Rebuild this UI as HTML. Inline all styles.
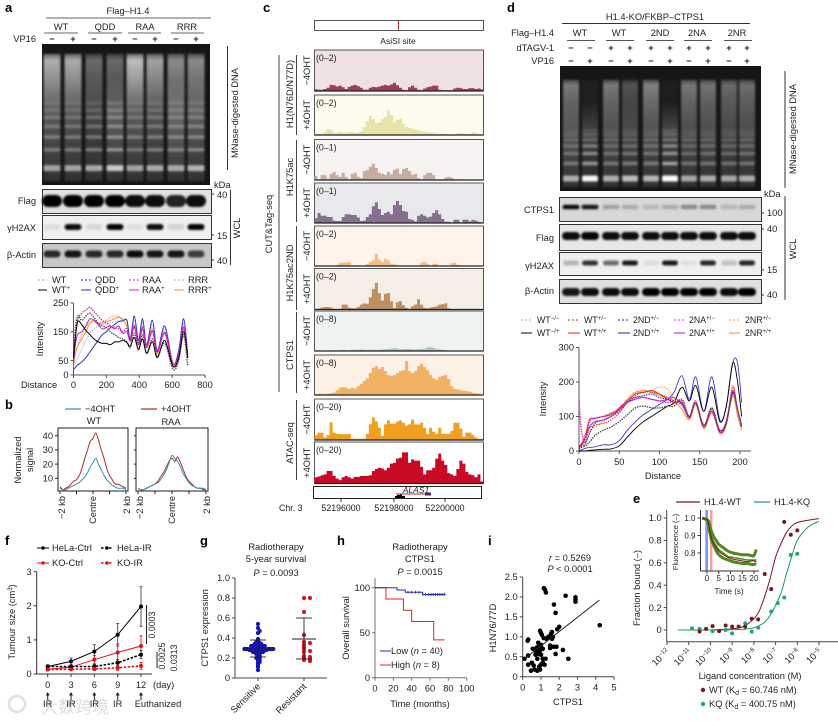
<!DOCTYPE html>
<html><head><meta charset="utf-8"><title>Figure</title>
<style>
html,body{margin:0;padding:0;background:#fff}
svg{display:block;font-family:"Liberation Sans","Noto Sans CJK SC",sans-serif;font-size:9.3px;fill:#222}
.b{font-weight:bold;font-size:13px;fill:#000}
.m{text-anchor:middle}.e{text-anchor:end}
</style></head><body>
<svg id="fig" xmlns="http://www.w3.org/2000/svg" width="838" height="721" viewBox="0 0 838 721">
<defs><filter id="blur1" x="-20%" y="-20%" width="140%" height="140%"><feGaussianBlur stdDeviation="1"/></filter>
<filter id="blur2" x="-30%" y="-60%" width="160%" height="220%"><feGaussianBlur stdDeviation="1.1"/></filter></defs>

<!-- panel letters -->
<text class="b" x="5" y="12">a</text>
<text class="b" x="5" y="409">b</text>
<text class="b" x="263" y="12">c</text>
<text class="b" x="507" y="12">d</text>
<text class="b" x="633" y="503">e</text>
<text class="b" x="5" y="545">f</text>
<text class="b" x="200" y="545">g</text>
<text class="b" x="337" y="545">h</text>
<text class="b" x="488" y="545">i</text>

<!-- panel a labels -->
<g>
<text class="m" x="128" y="14">Flag–H1.4</text>
<line x1="46" y1="18" x2="211" y2="18" stroke="#666"/>
<text class="m" x="61" y="30">WT</text>
<text class="m" x="105" y="30">QDD</text>
<text class="m" x="145" y="30">RAA</text>
<text class="m" x="187" y="30">RRR</text>
<path d="M44 33H78M88 33H122M128 33H161M171 33H204" stroke="#666" fill="none"/>
<text class="e" x="36" y="42">VP16</text>
<text class="e" x="36" y="204">Flag</text>
<text class="e" x="36" y="231">γH2AX</text>
<text class="e" x="36" y="258">β-Actin</text>
<text x="214" y="188">kDa</text>
<text x="217" y="198">40</text>
<text x="217" y="239">15</text>
<text x="217" y="264">40</text>
<path d="M211 194H214M211 235H214M211 260H214" stroke="#333"/>
<line x1="227.5" y1="46" x2="227.5" y2="170" stroke="#333"/>
<text class="m" transform="translate(238 113) rotate(-90)">MNase-digested DNA</text>
<line x1="230.5" y1="190" x2="230.5" y2="265" stroke="#333"/>
<text class="m" transform="translate(240 228) rotate(-90)">WCL</text>
</g>
<g>
<path d="M38 280H47" stroke="#aaa" stroke-dasharray="2 2"/><text x="52" y="283">WT</text>
<path d="M38 290H47" stroke="#000"/><text x="52" y="293">WT<tspan dy="-3" font-size="6">+</tspan></text>
<path d="M81 280H91" stroke="#2a2ac0" stroke-dasharray="2 2"/><text x="95" y="283">QDD</text>
<path d="M81 290H91" stroke="#2a2ac0"/><text x="95" y="293">QDD<tspan dy="-3" font-size="6">+</tspan></text>
<path d="M129 280H139" stroke="#d020d0" stroke-dasharray="2 2"/><text x="142" y="283">RAA</text>
<path d="M129 290H139" stroke="#d020d0"/><text x="142" y="293">RAA<tspan dy="-3" font-size="6">+</tspan></text>
<path d="M174 280H184" stroke="#f0a060" stroke-dasharray="2 2"/><text x="188" y="283">RRR</text>
<path d="M174 290H184" stroke="#f09030"/><text x="188" y="293">RRR<tspan dy="-3" font-size="6">+</tspan></text>
</g>
<text x="21" y="388">Distance</text>
<text class="m" transform="translate(43 339) rotate(-90)">Intensity</text>

<!-- panel b labels -->
<g>
<line x1="65" y1="409" x2="81" y2="409" stroke="#2f8fb0" stroke-width="1.2"/><text x="85" y="412">−4OHT</text>
<line x1="141" y1="409" x2="157" y2="409" stroke="#b02a30" stroke-width="1.2"/><text x="161" y="412">+4OHT</text>
</g>
<text class="m" x="94" y="424">WT</text>
<text class="m" x="171" y="425">RAA</text>
<text class="m" transform="translate(21 460) rotate(-90)">Normalized</text>
<text class="m" transform="translate(33 460) rotate(-90)">signal</text>

<!-- panel c labels -->
<g>
<rect x="314.5" y="20.5" width="169" height="10" fill="#fff" stroke="#555"/>
<line x1="398.5" y1="21" x2="398.5" y2="30" stroke="#c83030"/>
<text class="m" x="398" y="44" font-size="8.5">AsiSI site</text>
<text class="m" transform="translate(272 224) rotate(-90)">CUT&amp;Tag-seq</text>
<line x1="279" y1="55" x2="279" y2="392" stroke="#444"/>
<text class="m" transform="translate(293 94) rotate(-90)">H1(N76D/N77D)</text>
<text class="m" transform="translate(293 177) rotate(-90)">H1K75ac</text>
<text class="m" transform="translate(293 273) rotate(-90)">H1K75ac2ND</text>
<text class="m" transform="translate(293 355) rotate(-90)">CTPS1</text>
<text class="m" transform="translate(293 443) rotate(-90)">ATAC-seq</text>
<path d="M296.5 55V135M296.5 140V222M296.5 226V310M296.5 312V393M296.5 400V480" stroke="#444" fill="none"/>
<rect x="313.5" y="486.5" width="168" height="12" fill="#fff" stroke="#222"/>
<line x1="396" y1="494" x2="426" y2="494" stroke="#c02040" stroke-width="1"/>
<rect x="425" y="492.5" width="6" height="3" fill="#60205a"/>
<path d="M395 498V496H397V495H400V494.5H402V496H405V498Z" fill="#000"/>
<text class="m" x="416" y="493" font-style="italic" font-size="8.5">ALAS1</text>
<path d="M341 499V502M394 499V502M445 499V502" stroke="#333"/>
<text x="279" y="511" font-size="8.8">Chr. 3</text>
<text class="m" x="341" y="511" font-size="8.8">52196000</text>
<text class="m" x="394" y="511" font-size="8.8">52198000</text>
<text class="m" x="445" y="511" font-size="8.8">52200000</text>
</g>

<!-- panel d labels -->
<g>
<text class="m" x="655" y="20">H1.4-KO/FKBP–CTPS1</text>
<line x1="562" y1="23.5" x2="750" y2="23.5" stroke="#333"/>
<text class="e" x="554" y="36">Flag–H1.4</text>
<text class="m" x="580" y="36">WT</text>
<text class="m" x="619" y="36">WT</text>
<text class="m" x="660" y="36">2ND</text>
<text class="m" x="697" y="36">2NA</text>
<text class="m" x="737" y="36">2NR</text>
<path d="M567 40.5H595M606 40.5H634M646 40.5H674M684 40.5H712M724 40.5H752" stroke="#555" fill="none"/>
<text class="e" x="554" y="51">dTAGV-1</text>
<text class="e" x="554" y="64">VP16</text>
<text class="e" x="554" y="213">CTPS1</text>
<text class="e" x="554" y="241">Flag</text>
<text class="e" x="554" y="269">γH2AX</text>
<text class="e" x="554" y="294">β-Actin</text>
<text x="764" y="197">kDa</text>
<text x="767" y="216">100</text>
<text x="767" y="232">40</text>
<text x="767" y="273">15</text>
<text x="767" y="298">40</text>
<path d="M761 213H764M761 229H764M761 270H764M761 295H764" stroke="#333"/>
<line x1="785" y1="71" x2="785" y2="188" stroke="#333"/>
<text class="m" transform="translate(796 129) rotate(-90)">MNase-digested DNA</text>
<line x1="785" y1="196" x2="785" y2="300" stroke="#333"/>
<text class="m" transform="translate(796 249) rotate(-90)">WCL</text>
</g>
<g font-size="8.8">
<path d="M521 320H532" stroke="#aaa" stroke-dasharray="2 2"/><text x="537" y="323">WT<tspan dy="-3" font-size="6">−/−</tspan></text>
<path d="M521 333H532" stroke="#000"/><text x="537" y="336">WT<tspan dy="-3" font-size="6">−/+</tspan></text>
<path d="M568 320H580" stroke="#e02020" stroke-dasharray="2 2"/><text x="584" y="323">WT<tspan dy="-3" font-size="6">+/−</tspan></text>
<path d="M568 333H580" stroke="#e02020"/><text x="584" y="336">WT<tspan dy="-3" font-size="6">+/+</tspan></text>
<path d="M618 320H630" stroke="#2020b0" stroke-dasharray="2 2"/><text x="633" y="323">2ND<tspan dy="-3" font-size="6">+/−</tspan></text>
<path d="M618 333H630" stroke="#2020b0"/><text x="633" y="336">2ND<tspan dy="-3" font-size="6">+/+</tspan></text>
<path d="M674 320H685" stroke="#e030e0" stroke-dasharray="2 2"/><text x="689" y="323">2NA<tspan dy="-3" font-size="6">+/−</tspan></text>
<path d="M674 333H685" stroke="#a020c0"/><text x="689" y="336">2NA<tspan dy="-3" font-size="6">+/+</tspan></text>
<path d="M729 320H740" stroke="#f0a050" stroke-dasharray="2 2"/><text x="745" y="323">2NR<tspan dy="-3" font-size="6">+/−</tspan></text>
<path d="M729 333H740" stroke="#f09030"/><text x="745" y="336">2NR<tspan dy="-3" font-size="6">+/+</tspan></text>
</g>
<text class="m" x="663" y="479">Distance</text>
<text class="m" transform="translate(546 399) rotate(-90)">Intensity</text>

<!-- panel e labels -->
<g>
<line x1="676" y1="502" x2="700" y2="502" stroke="#7a1620" stroke-width="1.2"/><text x="704" y="505">H1.4-WT</text>
<line x1="754" y1="502" x2="770" y2="502" stroke="#1f9a5a" stroke-width="1.2"/><text x="774" y="505">H1.4-KQ</text>
</g>
<text class="m" x="750" y="679">Ligand concentration (M)</text>
<text class="m" transform="translate(640 588) rotate(-90)">Fraction bound (–)</text>
<circle cx="703" cy="690" r="2.2" fill="#7a1620"/>
<text x="709" y="693">WT (K<tspan dy="2" font-size="7">d</tspan><tspan dy="-2"> = 60.746 nM)</tspan></text>
<circle cx="703" cy="704" r="2.2" fill="#22a86a"/>
<text x="709" y="707">KQ (K<tspan dy="2" font-size="7">d</tspan><tspan dy="-2"> = 400.75 nM)</tspan></text>
<text class="m" x="729" y="594" font-size="8">Time (s)</text>
<text class="m" transform="translate(678 542) rotate(-90)" font-size="7.5">Fluorescence (–)</text>

<!-- panel f labels -->
<g>
<text x="52" y="551">HeLa-Ctrl</text>
<text x="117" y="551">HeLa-IR</text>
<text x="52" y="566">KO-Ctrl</text>
<text x="117" y="566">KO-IR</text>
<path d="M37 548H49" stroke="#000"/><circle cx="43" cy="548" r="1.7" fill="#000"/>
<path d="M101 548H113" stroke="#000" stroke-width="1.4" stroke-dasharray="2.5 1.5"/><circle cx="107" cy="548" r="1.7" fill="#000"/>
<path d="M37 563H49" stroke="#e01020"/><circle cx="43" cy="563" r="1.7" fill="#e01020"/>
<path d="M101 563H113" stroke="#e01020" stroke-width="1.4" stroke-dasharray="2.5 1.5"/><circle cx="107" cy="563" r="1.7" fill="#e01020"/>
</g>
<text class="m" transform="translate(15 622) rotate(-90)">Tumour size (cm<tspan dy="-3" font-size="6">3</tspan><tspan dy="3">)</tspan></text>
<text x="153" y="688">(day)</text>
<text class="m" x="158" y="707">Euthanized</text>
<path d="M146.5 605V644M157 652V665M157 664V668" stroke="#222" fill="none"/>
<text class="m" transform="translate(155 625) rotate(-90)" font-size="8.8">0.0003</text>
<text class="m" transform="translate(165 656) rotate(-90)" font-size="8.8">0.0025</text>
<text class="m" transform="translate(177 658) rotate(-90)" font-size="8.8">0.0313</text>

<!-- panel g labels -->
<text class="m" x="276" y="550">Radiotherapy</text>
<text class="m" x="276" y="562">5-year survival</text>
<text class="m" x="276" y="576"><tspan font-style="italic">P</tspan> = 0.0093</text>
<text class="m" transform="translate(208 628) rotate(-90)">CTPS1 expression</text>
<text class="e" transform="translate(261 687) rotate(-45)">Sensitive</text>
<text class="e" transform="translate(307 687) rotate(-45)">Resistant</text>

<!-- panel h labels -->
<text class="m" x="420" y="550">Radiotherapy</text>
<text class="m" x="420" y="562">CTPS1</text>
<text class="m" x="420" y="575"><tspan font-style="italic">P</tspan> = 0.0015</text>
<text class="m" transform="translate(349 628) rotate(-90)">Overall survival</text>
<text class="m" x="420" y="707">Time (months)</text>
<path d="M380 651H391" stroke="#2a2ab0"/>
<path d="M380 665H391" stroke="#e0202a"/>
<text x="391" y="654">Low (<tspan font-style="italic">n</tspan> = 40)</text>
<text x="391" y="668">High (<tspan font-style="italic">n</tspan> = 8)</text>

<!-- panel i labels -->
<text class="m" x="570" y="561"><tspan font-style="italic">r</tspan> = 0.5269</text>
<text class="m" x="570" y="572"><tspan font-style="italic">P</tspan> &lt; 0.0001</text>
<text class="m" x="568" y="705">CTPS1</text>
<text class="m" transform="translate(496 628) rotate(-90)">H1N76/77D</text>

<!-- watermark -->
<g opacity="0.75">
<circle cx="17" cy="704" r="8" fill="none" stroke="#d8d8d8" stroke-width="2.5"/>
<text x="41" y="713" font-size="17" fill="#d4d4d4" style="font-family:'Noto Sans CJK SC',sans-serif">大数跨境</text>
</g>
<g id="marks"></g>
</svg>
<script>
// ---------- data: panel a ----------
const aDistance=[0,10,25,50,75,100,125,150,175,200,225,250,275,300,325,345,370,395,420,445,480,510,555,605,640,670,695];
const aWTminus=[40,150,205,190,205,215,200,180,170,165,150,140,130,125,115,95,145,85,140,75,125,65,110,20,50,140,30];
const aWTplus=[60,120,185,175,155,140,125,115,110,110,105,115,115,120,112,100,130,90,125,75,115,60,120,30,60,150,60];
const aQDDminus=[30,40,60,90,120,145,160,170,175,178,180,185,188,190,185,120,190,110,185,100,175,85,160,35,80,180,60];
const aQDDplus=[20,25,35,45,60,80,100,120,140,150,165,175,185,188,190,125,205,120,195,105,190,85,170,40,85,195,70];
const aRAAminus=[50,130,190,215,225,235,220,205,190,180,170,165,160,150,160,120,170,110,165,100,155,80,150,40,70,170,65];
const aRAAplus=[40,100,140,150,170,195,190,175,160,165,170,160,170,145,150,120,170,105,160,95,155,80,145,40,70,165,60];
const aRRRminus=[50,80,100,140,165,180,185,180,185,190,200,205,205,195,185,120,175,110,170,95,165,80,150,35,70,160,60];
const aRRRplus=[40,70,100,125,150,180,190,180,180,185,190,195,200,190,170,115,165,105,160,95,150,75,145,35,65,155,60];
const aXTicks=[0,200,400,600,800];
const aYTicks=[0,50,150,250];
// ---------- data: panel b ----------
const bPos=[-2,-1.83,-1.67,-1.5,-1.33,-1.17,-1,-0.83,-0.67,-0.5,-0.33,-0.17,0,0.17,0.33,0.5,0.67,0.83,1,1.17,1.33,1.5,1.67,1.83,2];
const bWTminus=[3,2,2,3,4,5,6,7,9,11,14,18,21,24,20,16,12,9,7,5,4,3,3,3,2];
const bWTplus=[4,2,3,4,6,8,9,12,17,24,30,36,38,42,37,30,24,17,12,9,6,6,5,4,3];
const bRAAminus=[3,2,2,3,4,5,6,7,9,12,16,21,26,24,22,18,13,10,7,5,4,3,3,3,2];
const bRAAplus=[3,2,2,3,4,5,6,8,11,14,18,22,24,22,25,21,16,11,8,6,4,3,3,2,2];
const bYTicks=[10,20,30,40];
// ---------- data: panel c (signal as % of track range) ----------
const t1=[4,3,3,5,8,15,14,11,13,9,5,10,13,15,12,8,3,3,8,10,9,11,13,15,13,16,20,14,8,3,2,9,13,8,3,2,6,9,11,13,13,3,2,2,2,2,6,8,7,5,5,7,7,5,6,4];
const t2=[3,2,3,8,15,12,6,4,8,5,4,7,8,5,6,9,20,35,48,40,30,32,40,45,62,50,32,38,40,28,20,18,15,14,12,10,8,7,6,7,4,3,3,2,1,0,1,5,6,4,2,3,7,5,2,2];
const t3=[10,2,12,12,3,15,20,12,8,18,8,2,15,18,8,5,22,25,33,40,30,18,15,13,20,14,25,28,15,27,30,22,13,15,5,2,12,18,18,12,2,2,2,6,8,6,2,2,2,0,0,0,0,0,0,0];
const t4=[12,25,18,18,15,15,6,5,5,15,22,22,20,20,14,5,6,15,22,42,52,35,20,25,28,22,45,55,45,30,28,10,8,4,18,22,18,14,16,25,32,22,10,3,3,1,8,8,2,8,8,4,8,6,3,1];
const t5=[0,0,0,0,0,0,0,3,8,8,9,10,2,0,0,0,0,5,10,14,30,16,10,18,14,6,4,2,1,0,0,0,0,0,0,8,10,6,0,5,5,0,0,0,0,7,8,3,0,0,0,0,0,0,0,0];
const t6=[0,2,5,6,6,5,1,1,2,12,12,5,3,3,6,12,15,14,30,50,65,40,22,38,40,20,4,18,20,10,4,2,8,12,25,12,4,3,5,6,8,12,13,15,3,0,0,0,0,0,0,0,0,0,0,0];
const t7=[1,2,1,0,1,2,1,1,2,3,2,2,3,3,3,4,3,3,3,4,3,3,4,5,5,6,7,6,4,5,5,5,4,4,5,5,6,9,10,8,5,4,3,2,1,1,0,0,0,0,0,0,0,0,0,0];
const t8=[2,3,3,2,3,4,6,12,18,20,18,15,18,16,22,28,35,42,55,68,72,65,70,60,50,48,50,55,60,62,85,60,55,60,72,78,70,62,50,42,38,45,48,50,40,22,15,14,12,10,10,8,6,4,3,1];
const t9=[12,18,18,6,12,43,18,15,15,14,14,15,3,3,3,3,3,15,38,55,45,30,10,38,48,40,40,45,48,42,35,38,50,38,38,42,30,15,30,20,15,30,15,15,15,22,42,42,28,8,18,18,12,6,3,3];
const t10=[15,17,20,22,30,30,18,12,8,15,18,15,12,16,16,18,18,18,20,30,35,38,36,32,38,48,50,60,62,75,75,50,58,55,55,40,22,32,32,38,60,72,55,45,25,22,18,35,55,48,28,22,20,15,22,5];
const trackValues=[t1,t2,t3,t4,t5,t6,t7,t8,t9,t10];
const trackRanges=['(0–2)','(0–2)','(0–1)','(0–1)','(0–2)','(0–2)','(0–8)','(0–8)','(0–20)','(0–20)'];
const trackConds=['−4OHT','+4OHT','−4OHT','+4OHT','−4OHT','+4OHT','−4OHT','+4OHT','−4OHT','+4OHT'];
// ---------- data: panel d ----------
const dDistance=[0,3,8,13,20,30,40,50,60,70,80,90,100,110,118,128,137,145,155,165,175,183,191,197,202];
const dWTmm=[5,10,15,25,45,60,70,85,105,125,130,125,125,130,130,150,100,140,75,125,60,85,170,120,70];
const dWTmp=[0,0,0,2,3,5,6,15,40,65,85,100,115,130,140,185,145,190,115,185,85,130,255,200,100];
const dWTpm=[10,20,30,65,75,80,90,110,140,160,170,170,165,155,140,145,95,140,70,120,55,80,185,120,75];
const dWTpp=[10,15,40,90,95,100,105,125,145,165,170,175,165,150,140,140,95,140,70,115,55,80,175,120,75];
const dNDpm=[10,15,20,50,80,90,100,115,140,155,160,165,155,150,145,135,100,140,70,125,55,85,165,120,70];
const dNDpp=[0,3,8,10,12,18,18,30,60,85,105,120,135,150,170,218,150,215,115,215,90,130,255,255,140];
const dNApm=[145,60,25,85,95,100,110,120,145,155,155,150,145,140,145,140,100,145,70,120,55,85,175,120,75];
const dNApp=[15,20,40,70,85,90,100,120,140,150,155,150,145,150,155,135,100,140,75,115,60,85,170,120,70];
const dNRpm=[10,15,25,55,70,85,105,125,150,170,170,175,185,180,150,130,95,130,70,110,55,80,190,115,60];
const dNRpp=[10,20,50,90,95,100,110,120,150,170,175,170,160,155,145,120,90,135,65,110,50,75,160,100,60];
const dXTicks=[0,50,100,150,200];
const dYTicks=[0,100,200,300];
// ---------- data: panel e ----------
const eLogC=[-11.5,-11,-10.5,-10,-9.5,-9,-8.5,-8,-7.75,-7.5,-7.25,-7,-6.75,-6.5,-6.25,-6,-5.5,-5];
const eFitWT=[0,0,0,0,0.005,0.01,0.03,0.1,0.17,0.3,0.46,0.65,0.77,0.87,0.93,0.96,0.98,0.995];
const eFitKQ=[0,0,0,0,0,0.003,0.006,0.02,0.04,0.07,0.13,0.22,0.33,0.5,0.66,0.8,0.92,0.97];
const eDotsWTx=[-10.5,-10.2,-9.9,-9.6,-9.3,-9,-8.7,-8.4,-8.1,-7.8,-7.5,-7.2,-6.6,-6.3,-6];
const eDotsWTy=[-0.015,0.01,0.035,-0.01,0.04,0.03,0.03,0.03,0.1,0.095,0.5,0.365,0.965,0.85,0.89];
const eDotsKQx=[-10.85,-10.5,-9.9,-9.3,-9,-8.4,-8.1,-7.8,-7.2,-6.9,-6.6,-6.3,-6];
const eDotsKQy=[0.015,0.01,-0.01,0,-0.03,0.06,-0.015,0.02,0.165,0.24,0.29,0.67,0.68];
const eXExponents=['−12','−11','−10','−9','−8','−7','−6','−5'];
const eYTicks=[0,0.2,0.4,0.6,0.8,1.0];
const insetTime=[-2,-1,0,0.5,1,1.5,2,3,4,5,7,9,11,13,15,17,19,20,21];
const insetGreenHigh=[1,0.995,0.99,0.985,0.97,0.94,0.92,0.89,0.87,0.85,0.83,0.81,0.8,0.795,0.79,0.79,0.785,0.785,0.82];
const insetGreenMid=[1,0.995,0.99,0.98,0.95,0.92,0.89,0.86,0.84,0.82,0.8,0.78,0.775,0.77,0.765,0.76,0.76,0.76,0.76];
const insetGreenLow=[1,0.995,0.99,0.97,0.93,0.9,0.87,0.84,0.81,0.79,0.77,0.76,0.75,0.745,0.74,0.74,0.735,0.735,0.74];
const insetRed=[1,0.995,0.99,0.975,0.94,0.91,0.88,0.85,0.83,0.81,0.79,0.775,0.765,0.76,0.755,0.75,0.755,0.755,0.75];
const insetXTicks=[0,5,10,15,20];
const insetYTicks=[0.8,0.9,1.0];
// ---------- data: panel f ----------
const fDays=[0,3,6,9,12];
const fHeLaCtrl=[0.22,0.37,0.66,1.15,1.98];
const fHeLaCtrlErr=[0.05,0.1,0.2,0.33,0.58];
const fHeLaIR=[0.22,0.22,0.22,0.33,0.57];
const fHeLaIRErr=[0.03,0.05,0.06,0.1,0.12];
const fKOCtrl=[0.14,0.2,0.42,0.63,0.82];
const fKOCtrlErr=[0.03,0.06,0.12,0.25,0.3];
const fKOIR=[0.13,0.14,0.15,0.18,0.24];
const fKOIRErr=[0.02,0.03,0.05,0.07,0.1];
const fYTicks=[0,1,2,3];
// ---------- data: panel g ----------
const gSensitive=[0.08,0.11,0.13,0.15,0.16,0.17,0.18,0.19,0.2,0.2,0.21,0.22,0.23,0.24,0.24,0.25,0.25,0.25,0.26,0.26,0.26,0.26,0.27,0.27,0.27,0.27,0.27,0.28,0.28,0.28,0.28,0.28,0.28,0.29,0.29,0.29,0.29,0.29,0.29,0.29,0.3,0.3,0.3,0.3,0.3,0.3,0.3,0.31,0.31,0.31,0.31,0.31,0.32,0.32,0.32,0.32,0.33,0.33,0.33,0.34,0.34,0.35,0.35,0.36,0.38,0.39,0.45,0.47,0.5,0.54];
const gResistant=[0.8,0.8,0.66,0.43,0.36,0.35,0.33,0.32,0.3,0.29,0.27,0.26,0.22,0.21,0.2,0.19,0.18,0.17];
const gSummaryMean=[0.3,0.39];
const gSummaryLow=[0.21,0.19];
const gSummaryHigh=[0.38,0.6];
const gYTicks=[0,0.2,0.4,0.6,0.8,1.0];
// ---------- data: panel h ----------
const hLowTime=[0,24,33,52,77];
const hLowSurvival=[100,97.5,95,92.5,92.5];
const hHighTime=[0,12,31,40,64,76];
const hHighSurvival=[100,87.5,75,62.5,42,42];
const hLowCensor=[36,40,44,48,52,55,58,60,62,64,66,68,70,72,74,76];
const hXTicks=[0,20,40,60,80,100];
const hYTicks=[0,50,100];
// ---------- data: panel i ----------
const iCTPS1=[1.16,1.22,1.27,2.35,2.89,2.89,2.89,1.71,1.8,4.22,2.0,1.89,0.1,0.3,0.3,0.27,0.3,0.45,0.5,0.55,0.6,0.65,0.7,0.7,0.75,0.8,0.8,0.85,0.85,0.85,0.9,0.9,0.9,0.95,0.95,0.95,1.0,1.0,1.0,1.0,0.95,1.05,1.1,1.1,1.1,1.15,1.2,1.25,1.3,1.4,1.5,1.5,1.55,1.6,1.65,1.7,1.8,1.85,2.2,2.5,1.6];
const iH1=[2.22,2.18,2.11,2.03,1.99,1.93,1.88,1.81,1.6,1.29,1.25,1.19,0.45,0.3,0.53,0.9,0.93,0.15,0.35,0.7,0.28,0.18,0.55,0.65,0.72,0.15,0.45,0.62,0.75,0.85,0.25,0.57,0.7,0.18,0.78,0.65,0.3,0.55,0.8,1.1,1.15,1.05,0.35,0.45,0.7,0.97,0.3,0.45,0.95,1.0,0.72,0.78,1.07,1.12,1.0,0.75,0.57,0.75,0.67,0.45,0.95];
const iFitX=[0.1,4.2];
const iFitY=[0.45,1.92];
const iXTicks=[0,1,2,3,4,5];
const iYTicks=[0,0.5,1.0,1.5,2.0,2.5];
// ---------- data: gels and blots (lane intensities) ----------
const gelASmearTop=[0.66,0.64,0.36,0.36,0.72,0.6,0.5,0.5];
const gelASmearMid=[0.3,0.28,0.22,0.32,0.3,0.27,0.36,0.32];
const gelABandGain=[0.75,0.75,0.8,1,0.75,0.8,0.8,0.85];
const gelABandDepth=[0.88,0.75,0.66,0.585,0.52,0.47,0.42];
const gelABandPower=[0.72,0.42,0.38,0.32,0.26,0.2,0.14];
const gelDSmearTop=[0.42,0.05,0.42,0.26,0.46,0.04,0.42,0.4,0.36,0.38];
const gelDSmearMid=[0.28,0.18,0.26,0.22,0.26,0.2,0.24,0.24,0.22,0.24];
const gelDBandGain=[0.75,1.2,0.75,0.85,0.8,1.3,0.72,0.75,0.72,0.75];
const gelDBandDepth=[0.9,0.78,0.7,0.64,0.59,0.55,0.52];
const gelDBandPower=[0.8,0.42,0.36,0.3,0.2,0.14,0.1];
const blotAFlag=[1,1,1,1,0.95,0.95,0.85,0.95];
const blotAH2AX=[0.08,0.95,0.1,0.98,0.08,0.95,0.12,0.98];
const blotAActin=[0.8,0.9,0.8,0.8,0.95,0.9,0.9,0.7];
const blotDCTPS1=[0.95,0.9,0.25,0.2,0.15,0.2,0.35,0.35,0.15,0.2];
const blotDFlag=[0.95,0.98,0.95,0.95,0.95,0.95,0.95,0.95,0.95,0.95];
const blotDH2AX=[0.25,0.8,0.55,0.9,0.08,0.9,0.07,0.85,0.2,0.85];
const blotDActin=[0.9,0.95,0.95,0.95,1,1,1,1,0.95,1];
const vpA=['−','+','−','+','−','+','−','+'];
const tagD=['−','−','+','+','+','+','+','+','+','+'];
const vpD=['−','+','−','+','−','+','−','+','−','+'];

// ---------- helpers ----------
const NS='http://www.w3.org/2000/svg';
const root=document.getElementById('marks');
const defs=document.querySelector('defs');
function mk(tag,attrs,parent){const n=document.createElementNS(NS,tag);for(const k in attrs)n.setAttribute(k,attrs[k]);(parent||root).appendChild(n);return n;}
function linear(d0,d1,r0,r1){return v=>r0+(v-d0)*(r1-r0)/(d1-d0);}
function group(name){
  const g=mk('g',{});
  
  
  return g;
}
function label(parent,name,x,y,str,anchor,size){
  const t=mk('text',{x:x,y:y,'text-anchor':anchor||'start','font-size':size||9.3},parent);
  t.textContent=str;
  
  
  return t;
}
function segment(parent,name,x1,y1,x2,y2,stroke,w,dash){
  const l=mk('line',{x1:x1,y1:y1,x2:x2,y2:y2,stroke:stroke||'#222','stroke-width':w||1},parent);
  if(dash)l.setAttribute('stroke-dasharray',dash);
  
  
  return l;
}
function smoothPath(xs,ys){
  let d='M'+xs[0].toFixed(2)+' '+ys[0].toFixed(2);
  for(let i=0;i<xs.length-1;i++){
    const p0=i>0?i-1:i,p3=i+2<xs.length?i+2:i+1;
    const c1x=xs[i]+(xs[i+1]-xs[p0])/6,c1y=ys[i]+(ys[i+1]-ys[p0])/6;
    const c2x=xs[i+1]-(xs[p3]-xs[i])/6,c2y=ys[i+1]-(ys[p3]-ys[i])/6;
    d+='C'+c1x.toFixed(2)+' '+c1y.toFixed(2)+' '+c2x.toFixed(2)+' '+c2y.toFixed(2)+' '+xs[i+1].toFixed(2)+' '+ys[i+1].toFixed(2);
  }
  return d;
}
function series(parent,name,xv,yv,sx,sy,stroke,w,dash,opacity){
  const p=mk('path',{d:smoothPath(xv.map(sx),yv.map(sy)),fill:'none',stroke:stroke,'stroke-width':w||1},parent);
  if(dash)p.setAttribute('stroke-dasharray',dash);
  if(opacity)p.setAttribute('opacity',opacity);
  
  
  return p;
}
function yAxis(parent,name,ticks,sy,x,top,bottom,fmt,stroke,size){
  segment(parent,name+'-line',x,top,x,bottom,stroke||'#444',1);
  ticks.forEach(v=>{
    segment(parent,name+'-tick',x-3,sy(v),x,sy(v),stroke||'#444',1);
    label(parent,name+'-label',x-5,sy(v)+3.2,fmt?fmt(v):String(v),'end',size);
  });
}
function xAxis(parent,name,ticks,sx,y,left,right,offset,stroke,size){
  segment(parent,name+'-line',left,y,right,y,stroke||'#444',1);
  ticks.forEach(v=>{
    segment(parent,name+'-tick',sx(v),y,sx(v),y+3,stroke||'#444',1);
    label(parent,name+'-label',sx(v),y+offset,String(v),'middle',size);
  });
}
function symbols(parent,name,centers,vals,y){
  vals.forEach((s,i)=>{
    const t=label(parent,name,centers[i],y,s,'middle',9.3);
    t.setAttribute('font-weight','bold');
  });
}
// gel image
function drawGel(name,x,y,w,h,centers,lw,laneTop,smearTop,smearMid,gain,depth,power){
  const g=group(name);
  const bg=mk('rect',{x:x,y:y,width:w,height:h,fill:'#151515'},g);
  
  
  const inner=mk('g',{filter:'url(#blur1)'},g);
  
  
  centers.forEach((c,i)=>{
    const id=name+'-grad-'+i;
    const lg=mk('linearGradient',{id:id,x1:0,y1:0,x2:0,y2:1},defs);
    [[0,smearTop[i]*0.5],[0.05,smearTop[i]],[0.2,smearTop[i]*0.8],[0.45,smearMid[i]],[0.7,smearMid[i]*0.7],[1,0.12]].forEach(s=>{
      mk('stop',{offset:s[0],'stop-color':'#fff','stop-opacity':s[1]},lg);
    });
    const top=y+h*laneTop;
    const lane=mk('rect',{x:c-lw/2,y:top,width:lw,height:y+h-4-top,fill:'url(#'+id+')'},inner);
    
    
    depth.forEach((d,j)=>{
      const band=mk('rect',{x:c-lw/2,y:y+h*d-(j===0?3:1.8),width:lw,height:j===0?6:3.6,rx:1.5,fill:'#fff',opacity:Math.min(1,power[j]*gain[i])},inner);
      
      
    });
  });
}
// western blot
function drawBlot(name,x,y,w,h,bg,centers,vals,bandY,bandW,bandH){
  const g=group(name);
  const r=mk('rect',{x:x+0.5,y:y+0.5,width:w,height:h,fill:bg,stroke:'#333','stroke-width':1},g);
  
  
  const inner=mk('g',{filter:'url(#blur2)'},g);
  
  
  vals.forEach((v,i)=>{
    const b=mk('rect',{x:centers[i]-bandW/2,y:bandY-bandH/2,width:bandW,height:bandH,rx:bandH/2,fill:'#000',opacity:v},inner);
    
    
  });
}

// ---------- panel a images ----------
const lanesA=[52,73,94,115,135,155,176,196];
const gA=group('panel-a-marks');
symbols(gA,'vp16-sign',lanesA,vpA,42);
drawGel('gel-a',42,44,168,141,lanesA,17,0.07,gelASmearTop,gelASmearMid,gelABandGain,gelABandDepth,gelABandPower);
drawBlot('blot-a-flag',42,189,169,24,'#e2e2e2',lanesA,blotAFlag,201,20,12);
drawBlot('blot-a-h2ax',42,215,169,24,'#f0f0f0',lanesA,blotAH2AX,227,17,6);
drawBlot('blot-a-actin',42,243,169,24,'#c8c8c8',lanesA,blotAActin,254,17,7);

// ---------- panel a chart ----------
const ax=linear(0,800,73.5,205), ay=linear(0,250,375,303);
const cA=group('chart-a');
yAxis(cA,'chart-a-y-axis',aYTicks,ay,73.5,303,375,null,'#555');
xAxis(cA,'chart-a-x-axis',aXTicks,ax,375,73.5,205,13,'#555');
series(cA,'series-qdd-minus',aDistance,aQDDminus,ax,ay,'#b0b0e8',1,'1.5 1');
series(cA,'series-rrr-minus',aDistance,aRRRminus,ax,ay,'#f5b070',1.2,'1.5 1');
series(cA,'series-rrr-plus',aDistance,aRRRplus,ax,ay,'#f09030',1);
series(cA,'series-qdd-plus',aDistance,aQDDplus,ax,ay,'#3030c8',1);
series(cA,'series-raa-plus',aDistance,aRAAplus,ax,ay,'#c818c8',1);
series(cA,'series-raa-minus',aDistance,aRAAminus,ax,ay,'#d028b0',1.3,'1.5 1');
series(cA,'series-wt-minus',aDistance,aWTminus,ax,ay,'#555',1.4,'1.5 1');
series(cA,'series-wt-plus',aDistance,aWTplus,ax,ay,'#000',1);

// ---------- panel b ----------
const by=linear(0,40,492.5,435.7);
function bPanel(name,x0,x1,minusVals,plusVals,showY){
  const g=group(name);
  const f=mk('rect',{x:x0,y:428,width:x1-x0,height:63,fill:'#fff',stroke:'#222','stroke-width':1},g);
  
  
  const sx=linear(-2,2,x0+2,x1-2);
  [-2,-1,0,1,2].forEach(v=>{segment(g,name+'-x-tick',sx(v),491,sx(v),494,'#222',1);});
  if(showY){
    bYTicks.forEach(v=>{
      segment(g,name+'-y-tick',x0-3,by(v),x0,by(v),'#222',1);
      label(g,name+'-y-label',x0-5,by(v)+3.2,String(v),'end');
    });
  }else{
    bYTicks.forEach(v=>{segment(g,name+'-y-tick',x0-2,by(v),x0,by(v),'#222',1);});
  }
  series(g,name+'-plus-4oht',bPos,plusVals,sx,by,'#b02a30',1);
  series(g,name+'-minus-4oht',bPos,minusVals,sx,by,'#2f8fb0',1);
  [['−2 kb',x0+4],['Centre',(x0+x1)/2],['2 kb',x1-1]].forEach(a=>{
    const t=mk('text',{'text-anchor':'end',transform:'translate('+(a[1]+3)+' 496) rotate(-90)'},g);
    t.textContent=a[0];
    
    
  });
}
bPanel('chart-b-wt',58,128,bWTminus,bWTplus,true);
bPanel('chart-b-raa',136,208,bRAAminus,bRAAplus,false);

// ---------- panel c tracks ----------
const trackTop=[50,95,139.5,183,226,268.5,311,355,399,442];
const trackBottom=[91,135,180,223,266,309.5,351,395,440,483.5];
const trackBg=['#f0e1e3','#fdfbee','#f6f3f2','#e9e8ec','#fdf3ea','#f5eee7','#eef3f2','#fdf1e5','#ffffff','#ffffff'];
const trackFill=['#9c3e58','#e8e3a8','#c8aca2','#86708e','#f4bb82','#bf8e62','#a9c8be','#f2b266','#f0a020','#c80a25'];
trackValues.forEach((vals,k)=>{
  const g=group('track-'+(k+1));
  const top=trackTop[k],bot=trackBottom[k],x0=314.5,x1=483.5;
  const bg=mk('rect',{x:x0,y:top,width:x1-x0,height:bot-top,fill:trackBg[k],stroke:'#555','stroke-width':1},g);
  
  
  const sx=linear(0,vals.length,x0,x1), sy=linear(0,100,bot,top);
  let d='M'+x0+' '+bot;
  vals.forEach((v,i)=>{d+='L'+sx(i).toFixed(2)+' '+sy(v).toFixed(2)+'L'+sx(i+1).toFixed(2)+' '+sy(v).toFixed(2);});
  d+='L'+x1+' '+bot+'Z';
  const area=mk('path',{d:d,fill:trackFill[k]},g);
  
  
  segment(g,'track-baseline',x0,bot,x1,bot,'#222',1.3);
  label(g,'track-range',316,top+11,trackRanges[k],'start',8.8);
  const t=mk('text',{'text-anchor':'middle',transform:'translate(310 '+((top+bot)/2)+') rotate(-90)'},g);
  t.textContent=trackConds[k];
  
  
});

// ---------- panel d images ----------
const lanesD=[571,590,611,630,651,670,689,708,729,747];
const gD=group('panel-d-marks');
symbols(gD,'dtag-sign',lanesD,tagD,51);
symbols(gD,'d-vp16-sign',lanesD,vpD,64);
drawGel('gel-d',560,66,201,125,lanesD,16,0.11,gelDSmearTop,gelDSmearMid,gelDBandGain,gelDBandDepth,gelDBandPower);
drawBlot('blot-d-ctps1',559,197,202,24,'#d8d8d8',lanesD,blotDCTPS1,207,17,4.5);
drawBlot('blot-d-flag',559,224,202,26,'#e8e8e8',lanesD,blotDFlag,236,18,8);
drawBlot('blot-d-h2ax',559,252,202,23,'#f0f0f0',lanesD,blotDH2AX,263,16,5);
drawBlot('blot-d-actin',559,279,202,24,'#e0e0e0',lanesD,blotDActin,292,18,8);

// ---------- panel d chart ----------
const dx=linear(0,200,579,740), dy=linear(0,300,451,347.5);
const cD=group('chart-d');
yAxis(cD,'chart-d-y-axis',dYTicks,dy,579,347.5,451,null,'#555');
xAxis(cD,'chart-d-x-axis',dXTicks,dx,451,579,751,14,'#555');
series(cD,'series-2nd-plus-plus',dDistance,dNDpp,dx,dy,'#3a3ad0',0.9);
series(cD,'series-wt-minus-plus',dDistance,dWTmp,dx,dy,'#000',0.9);
series(cD,'series-2nr-plus-minus',dDistance,dNRpm,dx,dy,'#f0a870',1.2,'1.5 1');
series(cD,'series-2nr-plus-plus',dDistance,dNRpp,dx,dy,'#f09030',0.9);
series(cD,'series-wt-plus-minus',dDistance,dWTpm,dx,dy,'#e02a2a',1,'1.5 1');
series(cD,'series-wt-plus-plus',dDistance,dWTpp,dx,dy,'#e02020',0.9);
series(cD,'series-2nd-plus-minus',dDistance,dNDpm,dx,dy,'#2020b0',1,'1.5 1');
series(cD,'series-2na-plus-plus',dDistance,dNApp,dx,dy,'#a020c0',0.9);
series(cD,'series-2na-plus-minus',dDistance,dNApm,dx,dy,'#d820c8',1.3,'1.5 1');
series(cD,'series-wt-minus-minus',dDistance,dWTmm,dx,dy,'#444',1.3,'1.5 1');

// ---------- panel e ----------
const ex=linear(-12,-5,667,819), ey=linear(0,1,630,518);
const cE=group('chart-e');
yAxis(cE,'chart-e-y-axis',eYTicks,ey,666.7,510,641.7,v=>v===0?'0':v.toFixed(1),'#444');
segment(cE,'chart-e-x-axis-line',666.7,641.7,838,641.7,'#444',1);
eXExponents.forEach((ex_,i)=>{
  const px=ex(-12+i);
  segment(cE,'chart-e-x-tick',px,641.7,px,645,'#444',1);
  const t=mk('text',{'text-anchor':'end',transform:'translate('+(px+3)+' 652) rotate(-45)'},cE);
  
  
  t.textContent='10';
  const s=mk('tspan',{dy:-3,'font-size':6},t);
  s.textContent=ex_;
});
series(cE,'fit-wt',eLogC,eFitWT,ex,ey,'#7a1620',1);
series(cE,'fit-kq',eLogC,eFitKQ,ex,ey,'#1f9a5a',1);
eDotsKQx.forEach((v,i)=>{
  const c=mk('circle',{cx:ex(v),cy:ey(eDotsKQy[i]),r:2,fill:'#22a86a'},cE);
  
  
});
eDotsWTx.forEach((v,i)=>{
  const c=mk('circle',{cx:ex(v),cy:ey(eDotsWTy[i]),r:2,fill:'#7a1620'},cE);
  
  
});
// inset
const ix=linear(0,20,707,754), iy=linear(0.8,1.0,553,518);
const cI=group('chart-e-inset');
const blueBand=mk('rect',{x:705.3,y:510,width:2.7,height:61,fill:'#7f9af0'},cI);


const pinkBand=mk('rect',{x:710,y:510,width:2.4,height:61,fill:'#f4a0a8'},cI);


yAxis(cI,'inset-y-axis',insetYTicks,iy,700.5,510,571,v=>v.toFixed(1),'#333',8);
xAxis(cI,'inset-x-axis',insetXTicks,ix,571,700.5,759,10,'#333',8);
series(cI,'inset-green-low',insetTime,insetGreenLow,ix,iy,'#4f8a1c',3);
series(cI,'inset-green-high',insetTime,insetGreenHigh,ix,iy,'#4f8a1c',3);
series(cI,'inset-green-mid',insetTime,insetGreenMid,ix,iy,'#4f8a1c',1.5);
series(cI,'inset-red',insetTime,insetRed,ix,iy,'#7a1620',1);

// ---------- panel f ----------
const fx=linear(0,12,47.7,141), fy=linear(0,3,674,571.7);
const cF=group('chart-f');
yAxis(cF,'chart-f-y-axis',fYTicks,fy,36.7,571.7,674,null,'#333');
xAxis(cF,'chart-f-x-axis',fDays,fx,674,36.7,152,14,'#333');
function fSeries(name,vals,errs,color,w,dash){
  vals.forEach((v,i)=>{
    segment(cF,name+'-error',fx(fDays[i]),fy(v-errs[i]),fx(fDays[i]),fy(v+errs[i]),color==='#000'?'#444':color,0.9);
    segment(cF,name+'-error-cap',fx(fDays[i])-1.5,fy(v+errs[i]),fx(fDays[i])+1.5,fy(v+errs[i]),color==='#000'?'#444':color,0.9);
    segment(cF,name+'-error-cap',fx(fDays[i])-1.5,fy(v-errs[i]),fx(fDays[i])+1.5,fy(v-errs[i]),color==='#000'?'#444':color,0.9);
  });
  const p=mk('path',{d:'M'+vals.map((v,i)=>fx(fDays[i]).toFixed(2)+' '+fy(v).toFixed(2)).join('L'),fill:'none',stroke:color,'stroke-width':w},cF);
  if(dash)p.setAttribute('stroke-dasharray',dash);
  
  
  vals.forEach((v,i)=>{
    const c=mk('circle',{cx:fx(fDays[i]),cy:fy(v),r:2,fill:color},cF);
    
    
  });
}
fSeries('hela-ctrl',fHeLaCtrl,fHeLaCtrlErr,'#000',1);
fSeries('ko-ctrl',fKOCtrl,fKOCtrlErr,'#e01020',1);
fSeries('hela-ir',fHeLaIR,fHeLaIRErr,'#000',1.6,'2.5 1.5');
fSeries('ko-ir',fKOIR,fKOIRErr,'#e01020',1.6,'2.5 1.5');
fDays.forEach((d,i)=>{
  segment(cF,'treatment-arrow',fx(d),693,fx(d),700,'#222',1);
  const a=mk('path',{d:'M'+(fx(d)-2)+' 695.5L'+fx(d)+' 692L'+(fx(d)+2)+' 695.5Z',fill:'#222'},cF);
  
  
  if(i<4){label(cF,'treatment-ir-label',fx(d),707,'IR','middle');}
});

// ---------- panel g ----------
const gx=[258,304], gy=linear(0,1,678,578);
const cG=group('chart-g');
yAxis(cG,'chart-g-y-axis',gYTicks,gy,235,578,678,v=>v===0?'0':v.toFixed(1),'#444');
segment(cG,'chart-g-x-axis-line',235,678,327,678,'#444',1);
gx.forEach(c=>{segment(cG,'chart-g-x-tick',c,678,c,681,'#444',1);});
function swarm(vals,cx,color,step,name){
  const used={};
  vals.forEach(v=>{
    const bin=Math.round(v/0.02);
    const n=used[bin]||0;
    used[bin]=n+1;
    const off=(n%2?1:-1)*Math.ceil(n/2)*step;
    const c=mk('circle',{cx:cx+off,cy:gy(v),r:2.1,fill:color},cG);
    
    
  });
}
swarm(gSensitive,gx[0],'#1414b8',1.7,'point-sensitive');
swarm(gResistant,gx[1],'#d81420',6,'point-resistant');
gx.forEach((c,i)=>{
  const mw=i===0?15:12;
  segment(cG,'summary-whisker',c,gy(gSummaryLow[i]),c,gy(gSummaryHigh[i]),'#222',0.9);
  segment(cG,'summary-mean',c-mw,gy(gSummaryMean[i]),c+mw,gy(gSummaryMean[i]),'#222',0.9);
  segment(cG,'summary-cap-high',c-8,gy(gSummaryHigh[i]),c+8,gy(gSummaryHigh[i]),'#222',0.9);
  segment(cG,'summary-cap-low',c-8,gy(gSummaryLow[i]),c+8,gy(gSummaryLow[i]),'#222',0.9);
});

// ---------- panel h ----------
const hx=linear(0,100,375,466.7), hy=linear(0,100,677.7,587.7);
const cH=group('chart-h');
yAxis(cH,'chart-h-y-axis',hYTicks,hy,375,578,677.7,null,'#777');
xAxis(cH,'chart-h-x-axis',hXTicks,hx,677.7,375,466.7,14,'#777');
function stepPath(ts,ss){
  let d='M'+hx(ts[0]).toFixed(2)+' '+hy(ss[0]).toFixed(2);
  for(let i=1;i<ts.length;i++){d+='H'+hx(ts[i]).toFixed(2)+'V'+hy(ss[i]).toFixed(2);}
  return d;
}
const pHigh=mk('path',{d:stepPath(hHighTime,hHighSurvival),fill:'none',stroke:'#e0202a','stroke-width':1},cH);


const pLow=mk('path',{d:stepPath(hLowTime,hLowSurvival),fill:'none',stroke:'#2a2ab0','stroke-width':1},cH);


hLowCensor.forEach(t=>{
  const s=t<52?95:92.5;
  segment(cH,'censor-low',hx(t),hy(s)-1.5,hx(t),hy(s)+1.5,'#2a2ab0',0.8);
});

// ---------- panel i ----------
const ixx=linear(0,5,522.7,614), iyy=linear(0,2.5,676.7,577);
const cS=group('chart-i');
yAxis(cS,'chart-i-y-axis',iYTicks,iyy,522.7,577,676.7,v=>v===0?'0':v.toFixed(1),'#444');
xAxis(cS,'chart-i-x-axis',iXTicks,ixx,676.7,522.7,614,14,'#444');
iCTPS1.forEach((v,i)=>{
  const c=mk('circle',{cx:ixx(v),cy:iyy(iH1[i]),r:2.3,fill:'#000'},cS);
  
  
});
segment(cS,'regression-line',ixx(iFitX[0]),iyy(iFitY[0]),ixx(iFitX[1]),iyy(iFitY[1]),'#222',1);
</script>
</body></html>
